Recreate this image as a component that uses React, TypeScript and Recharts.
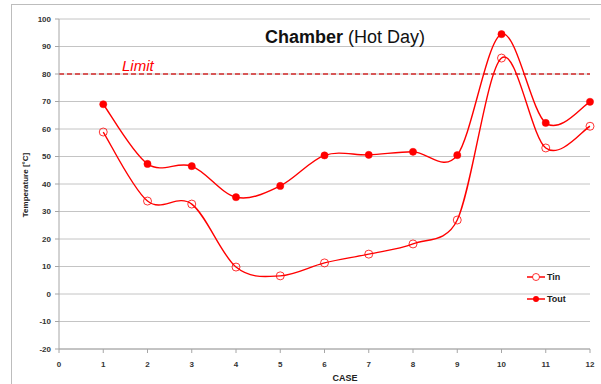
import React from 'react';
import { LineChart, Line, XAxis, YAxis, CartesianGrid, ReferenceLine } from 'recharts';

// Chamber temperatures per test case (°C)
const cases = [1, 2, 3, 4, 5, 6, 7, 8, 9, 10, 11, 12];
const tinValues = [58.9, 33.8, 32.7, 9.8, 6.6, 11.3, 14.5, 18.2, 26.9, 85.8, 53.1, 61.0];
const toutValues = [69.0, 47.3, 46.5, 35.2, 39.3, 50.4, 50.6, 51.7, 50.5, 94.5, 62.2, 69.9];
const limitValue = 80;
const xTicks = [0, 1, 2, 3, 4, 5, 6, 7, 8, 9, 10, 11, 12];
const yTicks = [-20, -10, 0, 10, 20, 30, 40, 50, 60, 70, 80, 90, 100];

const data = cases.map((c, i) => ({ case: c, Tin: tinValues[i], Tout: toutValues[i] }));

const RED = '#ff0000';
const FONT = '"Liberation Sans", Arial, sans-serif';

// Spreadsheet-style smoothed line: Bezier segments with control points at 1/6
// of the neighbour chord, clamped to half of the segment length.
function smoothCurve(context: any) {
  let pts: number[][] = [];
  const dist = (a: number[], b: number[]) => Math.hypot(b[0] - a[0], b[1] - a[1]);
  return {
    areaStart() {},
    areaEnd() {},
    lineStart() {
      pts = [];
    },
    point(x: number, y: number) {
      pts.push([+x, +y]);
    },
    lineEnd() {
      const n = pts.length;
      if (!n) return;
      context.moveTo(pts[0][0], pts[0][1]);
      for (let i = 0; i < n - 1; i++) {
        const p0 = pts[i - 1] || pts[i];
        const p1 = pts[i];
        const p2 = pts[i + 1];
        const p3 = pts[i + 2] || p2;
        const seg = dist(p1, p2);
        const d02 = dist(p0, p2);
        const d13 = dist(p1, p3);
        let f1 = 1 / 6;
        let f2 = 1 / 6;
        if (d02 / 6 > seg / 2 && d02 > 0) f1 = seg / (2 * d02);
        if (d13 / 6 > seg / 2 && d13 > 0) f2 = seg / (2 * d13);
        const c1x = p1[0] + (p2[0] - p0[0]) * f1;
        const c1y = p1[1] + (p2[1] - p0[1]) * f1;
        const c2x = p2[0] - (p3[0] - p1[0]) * f2;
        const c2y = p2[1] - (p3[1] - p1[1]) * f2;
        context.bezierCurveTo(c1x, c1y, c2x, c2y, p2[0], p2[1]);
      }
    },
  };
}

const OpenDot = (props: any) => {
  const { cx, cy } = props;
  if (cx == null || cy == null) return null;
  return <circle cx={cx} cy={cy} r={4} fill="none" stroke={RED} strokeWidth={0.8} />;
};

const FilledDot = (props: any) => {
  const { cx, cy } = props;
  if (cx == null || cy == null) return null;
  return <circle cx={cx} cy={cy} r={3.6} fill={RED} stroke={RED} strokeWidth={0.5} />;
};

const seriesList = [
  { key: 'Tin', filled: false },
  { key: 'Tout', filled: true },
];

const LegendBox = () => (
  <div style={{ fontFamily: FONT, fontSize: 9, fontWeight: 'bold', color: '#222' }}>
    {seriesList.map((s) => (
      <div key={s.key} style={{ display: 'flex', alignItems: 'center', height: 22 }}>
        <svg width={18} height={10}>
          <line x1={0} y1={5} x2={18} y2={5} stroke={RED} strokeWidth={1.5} />
          {s.filled ? (
            <circle cx={9} cy={5} r={3} fill={RED} />
          ) : (
            <circle cx={9} cy={5} r={3.5} fill="#fff" stroke={RED} strokeWidth={0.8} />
          )}
        </svg>
        <span style={{ marginLeft: 2 }}>{s.key}</span>
      </div>
    ))}
  </div>
);

const tickStyle = { fontFamily: FONT, fontSize: 8, fontWeight: 'bold' as const, fill: '#333' };

export default function App() {
  return (
    <div style={{ position: 'absolute', left: 0, top: 0, width: 601, height: 384, background: '#fff', overflow: 'hidden' }}>
      {/* chart frame */}
      <div
        style={{
          position: 'absolute',
          left: 11,
          top: 4,
          width: 600,
          height: 400,
          borderLeft: '1px solid #bdbdbd',
          borderTop: '1px solid #bdbdbd',
        }}
      />
      <div style={{ position: 'absolute', left: 0, top: 0 }}>
        <LineChart
          width={601}
          height={384}
          data={data}
          margin={{ top: 19, right: 11, bottom: 0, left: 0 }}
        >
          <CartesianGrid vertical={false} stroke="#c4c4c4" strokeWidth={1} />
          <XAxis
            dataKey="case"
            type="number"
            domain={[0, 12]}
            ticks={xTicks}
            interval={0}
            height={35}
            stroke="#a6a6a6"
            tickSize={4}
            tickMargin={8}
            tick={tickStyle}
            tickLine={{ stroke: '#a6a6a6' }}
          />
          <YAxis
            type="number"
            domain={[-20, 100]}
            ticks={yTicks}
            interval={0}
            width={59}
            stroke="#a6a6a6"
            tickSize={4}
            tickMargin={4}
            tick={tickStyle}
            tickLine={{ stroke: '#a6a6a6' }}
          />
          <ReferenceLine
            y={limitValue}
            stroke="#d42a2a"
            strokeWidth={1.3}
            strokeDasharray="5 3"
            label={{
              content: (p: any) => (
                <text
                  x={(p.viewBox?.x ?? 59) + 63}
                  y={(p.viewBox?.y ?? 74) - 3}
                  fill={RED}
                  fontFamily={FONT}
                  fontStyle="italic"
                  fontSize={15}
                >
                  Limit
                </text>
              ),
            }}
          />
          <Line
            dataKey="Tin"
            type={smoothCurve as any}
            stroke={RED}
            strokeWidth={1.4}
            dot={<OpenDot />}
            activeDot={false}
            isAnimationActive={false}
          />
          <Line
            dataKey="Tout"
            type={smoothCurve as any}
            stroke={RED}
            strokeWidth={1.4}
            dot={<FilledDot />}
            activeDot={false}
            isAnimationActive={false}
          />
        </LineChart>
      </div>
      <div style={{ position: 'absolute', left: 527, top: 266 }}>
        <LegendBox />
      </div>
      {/* titles */}
      <svg width={601} height={384} style={{ position: 'absolute', left: 0, top: 0, pointerEvents: 'none' }}>
        <text x={345} y={43} textAnchor="middle" fontFamily={FONT} fontSize={18} fill="#111">
          <tspan fontWeight="bold">Chamber</tspan>
          <tspan> (Hot Day)</tspan>
        </text>
        <text
          x={0}
          y={0}
          transform="translate(28,185) rotate(-90)"
          textAnchor="middle"
          fontFamily={FONT}
          fontSize={8}
          fontWeight="bold"
          fill="#222"
        >
          Temperature [°C]
        </text>
        <text x={345} y={381} textAnchor="middle" fontFamily={FONT} fontSize={9} fontWeight="bold" fill="#222">
          CASE
        </text>
      </svg>
    </div>
  );
}
